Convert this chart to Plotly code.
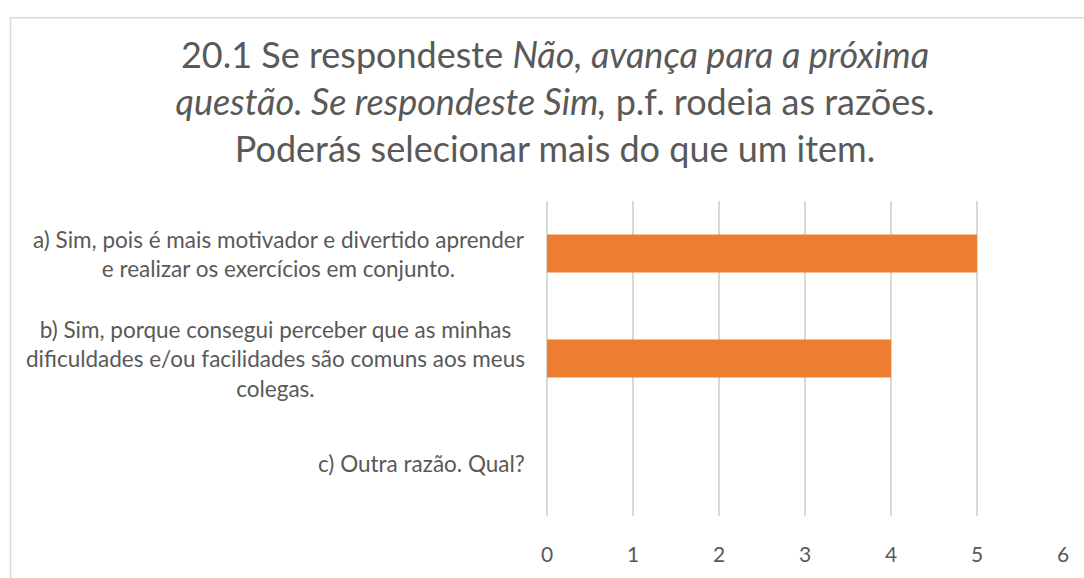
import plotly.graph_objects as go

# Survey question 20.1 — number of answers per reason
categories = [
    "a) Sim, pois é mais motivador e divertido aprender<br>e realizar os exercícios em conjunto.",
    "b) Sim, porque consegui perceber que as minhas<br>dificuldades e/ou facilidades são comuns aos meus<br>colegas.",
    "c) Outra razão. Qual?",
]
counts = [5, 4, 0]
tick_values = [0, 1, 2, 3, 4, 5, 6]

title_text = (
    "20.1 Se respondeste <i>Não, avança para a próxima</i><br>"
    "<i>questão. Se respondeste Sim,</i> p.f. rodeia as razões.<br>"
    "Poderás selecionar mais do que um item."
)

TEXT = "#595959"
GRID = "#d9d9d9"
BAR = "#ED7D31"
FONT = "Lato, Carlito, Calibri, sans-serif"

W, H = 1084, 578
L, R, T, B = 547, 21, 201, 53

fig = go.Figure(
    go.Bar(
        x=counts,
        y=categories,
        orientation="h",
        marker=dict(color=BAR, line=dict(width=0)),
        width=0.36,
        hoverinfo="x+y",
    )
)

# category labels as centred multi-line text to the left of the plot area
for cat in categories:
    fig.add_annotation(
        x=0, xref="paper", y=cat, yref="y",
        xanchor="right", yanchor="middle", xshift=-20,
        text=cat, showarrow=False, align="center",
        font=dict(family=FONT, size=22.5, color=TEXT),
    )

# chart frame (left and top edges fall inside the page)
pw = W - L - R
ph = H - T - B
fig.add_shape(
    type="rect", xref="paper", yref="paper",
    x0=(10.5 - L) / pw, x1=(W + 20 - L) / pw,
    y0=(H - B - (H + 20)) / ph, y1=(H - B - 12.5) / ph,
    line=dict(color=GRID, width=1.5), fillcolor="rgba(0,0,0,0)", layer="below",
)

fig.update_layout(
    width=W, height=H,
    margin=dict(l=L, r=R, t=T, b=B),
    paper_bgcolor="white", plot_bgcolor="white",
    showlegend=False,
    title=dict(
        text=title_text, x=555 / W, xanchor="center", xref="container",
        y=1 - 68 / H, yanchor="top", yref="container",
        font=dict(family=FONT, size=36, color=TEXT),
    ),
    xaxis=dict(
        range=[0, 6], tickvals=tick_values, showgrid=True, gridcolor=GRID, gridwidth=2,
        zeroline=True, zerolinecolor=GRID, zerolinewidth=2, showline=False, ticks="",
        tickfont=dict(family=FONT, size=21, color=TEXT), ticklabelstandoff=24,
    ),
    yaxis=dict(
        categoryorder="array", categoryarray=categories[::-1],
        showticklabels=False, showgrid=False, zeroline=False, showline=False, ticks="",
    ),
    bargap=0.64,
)

fig.write_html("out.html")
